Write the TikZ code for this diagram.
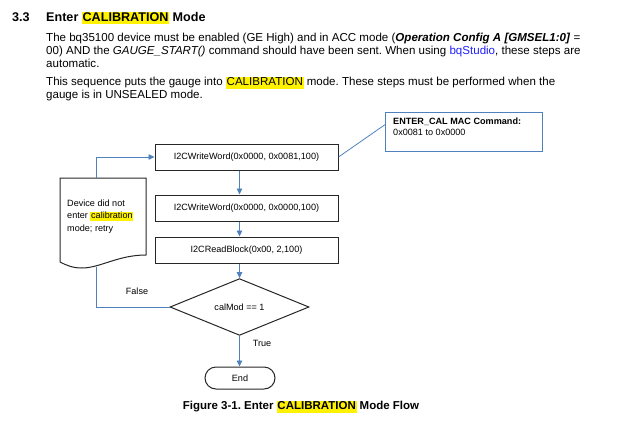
\documentclass[tikz,border=0pt]{standalone}
\usepackage{fontspec}
\setmainfont{Liberation Sans}
\usetikzlibrary{arrows.meta,shapes.geometric,shapes.misc}
\definecolor{lineblue}{HTML}{4F81BD}
\definecolor{linkblue}{HTML}{1E1EFF}
\newcommand{\hlite}[1]{{\setlength{\fboxsep}{0.7pt}\colorbox{yellow}{\vphantom{Ag}#1}}}
\frenchspacing
\tikzset{
  body/.style={anchor=base west, inner sep=0pt, font=\fontsize{11.55}{13.4}\selectfont},
  head/.style={anchor=base west, inner sep=0pt, font=\fontsize{12.6}{15}\selectfont\bfseries},
  small/.style={font=\fontsize{9.1}{11}\selectfont},
  pbox/.style={draw=black!85, line width=1pt, minimum width=183pt, minimum height=26pt, inner sep=0pt, small},
  decision/.style={draw=black!85, line width=1pt, diamond, minimum width=139pt, minimum height=52pt, inner sep=0pt, small},
  term/.style={draw=black!85, line width=1pt, rounded rectangle, minimum width=70pt, minimum height=22pt, inner sep=0pt, small},
  docshape/.style={draw=black!85, line width=1pt},
  calbox/.style={draw=lineblue, line width=0.9pt, minimum width=157pt, minimum height=39pt, inner sep=0pt},
  conn/.style={draw=lineblue, line width=0.8pt},
  arr/.style={-{Triangle[width=5.5pt,length=6pt]}},
  lbl/.style={small, inner sep=0pt},
}
\begin{document}
\begin{tikzpicture}[x=1pt,y=-1pt]
\useasboundingbox (0,0) rectangle (640,426);
% text
\node[head] (sec) at (12,21) {3.3};
\node[head] (title) at (46,21) {Enter \hlite{CALIBRATION} Mode};
\node[body] (l1) at (46,41) {The bq35100 device must be enabled (GE High) and in ACC mode (\textbf{\textit{Operation Config A [GMSEL1:0]}} =};
\node[body] (l2) at (46,54.2) {00) AND the \textit{GAUGE\_START()} command should have been sent. When using \textcolor{linkblue}{bqStudio}, these steps are};
\node[body] (l3) at (46,67.4) {automatic.};
\node[body] (l4) at (46,85.5) {This sequence puts the gauge into \hlite{CALIBRATION} mode. These steps must be performed when the};
\node[body] (l5) at (46,98.9) {gauge is in UNSEALED mode.};
% flow
\node[pbox] (b1) at (246.5,157) {I2CWriteWord(0x0000, 0x0081,100)};
\node[pbox] (b2) at (246.5,208) {I2CWriteWord(0x0000, 0x0000,100)};
\node[pbox] (b3) at (246.5,250) {I2CReadBlock(0x00, 2,100)};
\node[decision] (dec) at (239.5,307) {calMod == 1};
\node[term] (end) at (240,378) {End};
% document shape
\draw[docshape] (60,262) -- (60,178) -- (146,178) -- (146,255)
   .. controls (118,255) and (100,268) .. (82,268)
   .. controls (72,268) and (66,265) .. (60,262) -- cycle;
\node[small, anchor=base west, inner sep=0pt] (d1) at (67,206) {Device did not};
\node[small, anchor=base west, inner sep=0pt] (d2) at (67,218.8) {enter \hlite{calibration}};
\node[small, anchor=base west, inner sep=0pt] (d3) at (67,231.6) {mode; retry};
\coordinate (dtop) at (96.5,178);
\coordinate (dbot) at (96.5,266.5);
% callout
\node[calbox, anchor=north west] (cal) at (385,111.7) {};
\node[small, anchor=north west, align=left, inner sep=0pt] (caltext) at (393,117.5) {\textbf{ENTER\_CAL MAC Command:}\\0x0081 to 0x0000};
% connectors
\draw[conn,arr] (dtop) |- (b1.west);
\draw[conn] (dbot) |- (dec.west);
\draw[conn,arr] (b1.south -| dec.north) -- (b2.north -| dec.north);
\draw[conn,arr] (b2.south -| dec.north) -- (b3.north -| dec.north);
\draw[conn,arr] (b3.south -| dec.north) -- (dec.north);
\draw[conn,arr] (dec.south) -- (end.north -| dec.south);
\draw[conn] (b1.east) -- ([yshift=7pt]cal.west);
\node[lbl] (false) at (137,291) {False};
\node[lbl] (true) at (262,343) {True};
% caption
\node[anchor=base, inner sep=0pt, font=\fontsize{11.5}{14}\selectfont\bfseries] (cap) at (301,409.8) {Figure 3-1. Enter \hlite{CALIBRATION} Mode Flow};
\end{tikzpicture}
\end{document}
